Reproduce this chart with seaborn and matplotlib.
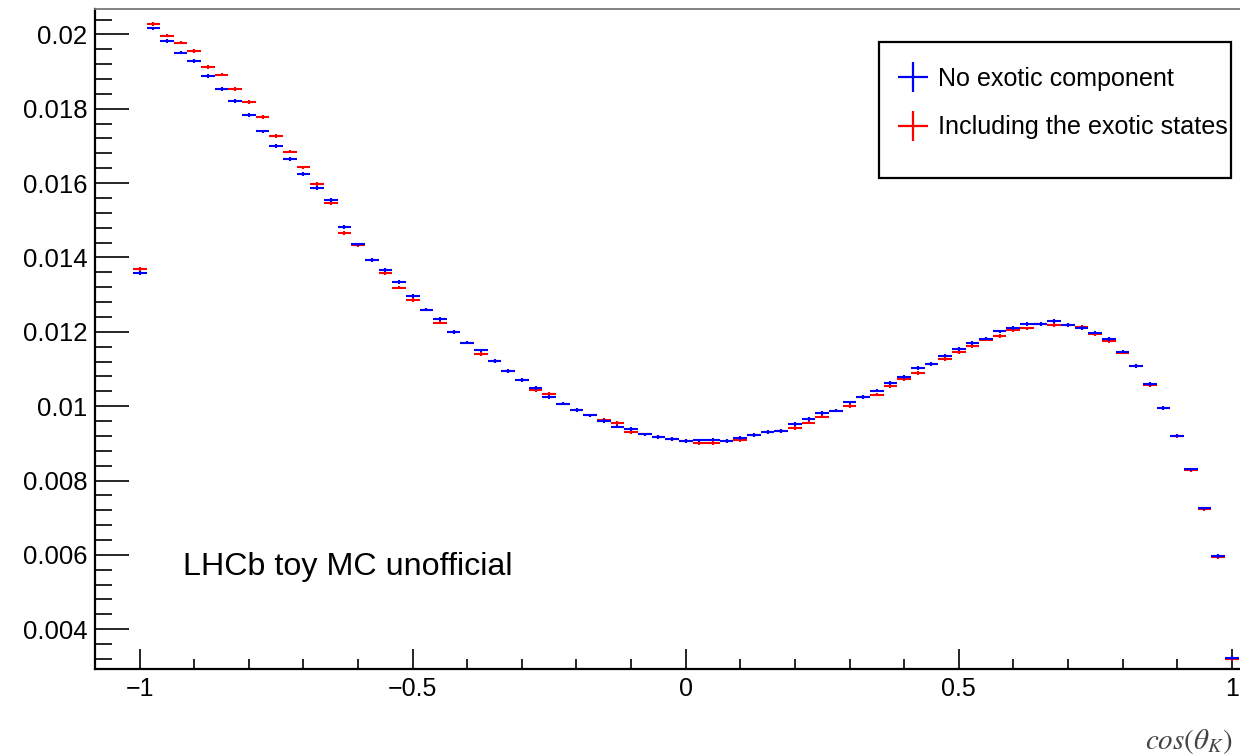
import numpy as np
import matplotlib
matplotlib.use("Agg")
import matplotlib.pyplot as plt
from matplotlib.lines import Line2D
from matplotlib.patches import Rectangle
from matplotlib.ticker import MultipleLocator, FixedLocator, FixedFormatter
import seaborn as sns

# Histogram binning in cos(theta_K): bins centred on multiples of 0.025 from -1 to 1
bin_width = 0.025
n_bins = 81
bin_centres = -1.0 + bin_width * np.arange(n_bins)

# Normalised yields, no exotic component
no_exotic = [
    0.01359, 0.02016, 0.01982, 0.01951, 0.01928, 0.01889, 0.01853, 0.01821, 0.01783, 0.01739,
    0.01699, 0.01665, 0.01625, 0.01586, 0.01554, 0.01482, 0.01435, 0.01394, 0.01366, 0.01334,
    0.01296, 0.01260, 0.01235, 0.01200, 0.01171, 0.01150, 0.01121, 0.01095, 0.01070, 0.01049,
    0.01024, 0.01007, 0.00990, 0.00975, 0.00960, 0.00945, 0.00938, 0.00924, 0.00917, 0.00912,
    0.00906, 0.00908, 0.00910, 0.00906, 0.00914, 0.00922, 0.00931, 0.00934, 0.00952, 0.00966,
    0.00981, 0.00988, 0.01010, 0.01024, 0.01042, 0.01062, 0.01079, 0.01103, 0.01113, 0.01136,
    0.01153, 0.01170, 0.01182, 0.01201, 0.01210, 0.01221, 0.01221, 0.01230, 0.01218, 0.01211,
    0.01198, 0.01180, 0.01147, 0.01109, 0.01059, 0.00996, 0.00921, 0.00830, 0.00725, 0.00597,
    0.00322,
]

# Normalised yields, including the exotic states
with_exotic = [
    0.01368, 0.02028, 0.01997, 0.01978, 0.01955, 0.01912, 0.01892, 0.01853, 0.01819, 0.01778,
    0.01727, 0.01685, 0.01642, 0.01598, 0.01546, 0.01465, 0.01433, 0.01394, 0.01357, 0.01319,
    0.01286, 0.01260, 0.01225, 0.01200, 0.01171, 0.01141, 0.01121, 0.01095, 0.01070, 0.01044,
    0.01032, 0.01007, 0.00990, 0.00975, 0.00962, 0.00954, 0.00931, 0.00924, 0.00917, 0.00912,
    0.00906, 0.00900, 0.00900, 0.00906, 0.00908, 0.00922, 0.00931, 0.00934, 0.00941, 0.00956,
    0.00972, 0.00988, 0.01001, 0.01024, 0.01031, 0.01053, 0.01072, 0.01089, 0.01113, 0.01126,
    0.01145, 0.01161, 0.01179, 0.01189, 0.01205, 0.01209, 0.01220, 0.01218, 0.01218, 0.01213,
    0.01194, 0.01174, 0.01144, 0.01107, 0.01057, 0.00994, 0.00919, 0.00828, 0.00723, 0.00595,
    0.00320,
]

stat_err = 0.00005

series_labels = ["No exotic component", "Including the exotic states"]
series_colors = ["#0000ff", "#ff0000"]

x_major = [-1.0, -0.5, 0.0, 0.5, 1.0]
x_major_labels = ["\u22121", "\u22120.5", "0", "0.5", "1"]
y_major = [0.004, 0.006, 0.008, 0.01, 0.012, 0.014, 0.016, 0.018, 0.02]
y_major_labels = ["0.004", "0.006", "0.008", "0.01", "0.012", "0.014", "0.016", "0.018", "0.02"]

sns.set_theme(style="ticks")
plt.rcParams["font.family"] = ["Liberation Sans", "DejaVu Sans"]
plt.rcParams["mathtext.fontset"] = "stix"
plt.rcParams["text.color"] = "black"
plt.rcParams["xtick.labelcolor"] = "black"
plt.rcParams["ytick.labelcolor"] = "black"

W, H = 1240, 754
fig = plt.figure(figsize=(W / 100, H / 100), dpi=100)
fig.patch.set_facecolor("white")

ax_left, ax_right, ax_top, ax_bottom = 95, 1245, 8.9, 669
ax = fig.add_axes([ax_left / W, 1 - ax_bottom / H,
                   (ax_right - ax_left) / W, (ax_bottom - ax_top) / H])
ax.set_facecolor("white")

# red first, blue drawn on top of it
for vals, col in ((with_exotic, series_colors[1]), (no_exotic, series_colors[0])):
    ax.errorbar(bin_centres, vals, xerr=bin_width / 2, yerr=stat_err,
                fmt="none", ecolor=col, elinewidth=1.5, capsize=0, zorder=3)

xmin = -1.0 - (139.7 - ax_left) / 546.0
xmax = 1.0 + (ax_right - 1231.7) / 546.0
ax.set_xlim(xmin, xmax)
ax.set_ylim(0.002930, 0.020686)

ax.xaxis.set_major_locator(FixedLocator(x_major))
ax.xaxis.set_major_formatter(FixedFormatter(x_major_labels))
ax.xaxis.set_minor_locator(MultipleLocator(0.1))
ax.yaxis.set_major_locator(FixedLocator(y_major))
ax.yaxis.set_major_formatter(FixedFormatter(y_major_labels))
ax.yaxis.set_minor_locator(MultipleLocator(0.0004))

ax.tick_params(axis="x", which="major", direction="in", length=14.4, width=1.2,
               color="black", labelcolor="black", labelsize=18, pad=6, top=False)
ax.tick_params(axis="x", which="minor", direction="in", length=7.2, width=1.2,
               color="black", top=False)
ax.tick_params(axis="y", which="major", direction="in", length=24.5, width=1.2,
               color="black", labelcolor="black", labelsize=18.5, pad=5.5, right=False)
ax.tick_params(axis="y", which="minor", direction="in", length=12.3, width=1.2,
               color="black", right=False)

sns.despine(ax=ax, right=True, top=False)
for side in ("left", "bottom"):
    ax.spines[side].set_linewidth(1.6)
    ax.spines[side].set_color("black")
ax.spines["top"].set_linewidth(1.3)
ax.spines["top"].set_color("#777777")
ax.grid(False)

# legend: frame box plus two cross-shaped entries
fig.patches.append(Rectangle((879 / W, 1 - 178 / H), 352 / W, 136 / H,
                             transform=fig.transFigure, fill=False,
                             edgecolor="black", linewidth=1.6, zorder=5))
handles = [Line2D([], [], color=c, marker="+", linestyle="none",
                  markersize=22, markeredgewidth=1.6) for c in series_colors]
fig.legend(handles, series_labels, loc="upper left",
           bbox_to_anchor=(896.5 / W, 1 - 67 / H), frameon=False,
           fontsize=18.1, borderpad=0, borderaxespad=0, handlelength=1.35,
           handletextpad=0.3, labelspacing=0.97, labelcolor="black")

fig.text(183 / W, 1 - 567 / H, "LHCb toy MC unofficial", fontsize=23.2,
         ha="left", va="center", color="black")
fig.text(1233 / W, 1 - 741 / H, r"$cos(\theta_K)$", fontsize=21,
         ha="right", va="center", color="#444444")

fig.savefig("out.png", dpi=100, facecolor="white")
